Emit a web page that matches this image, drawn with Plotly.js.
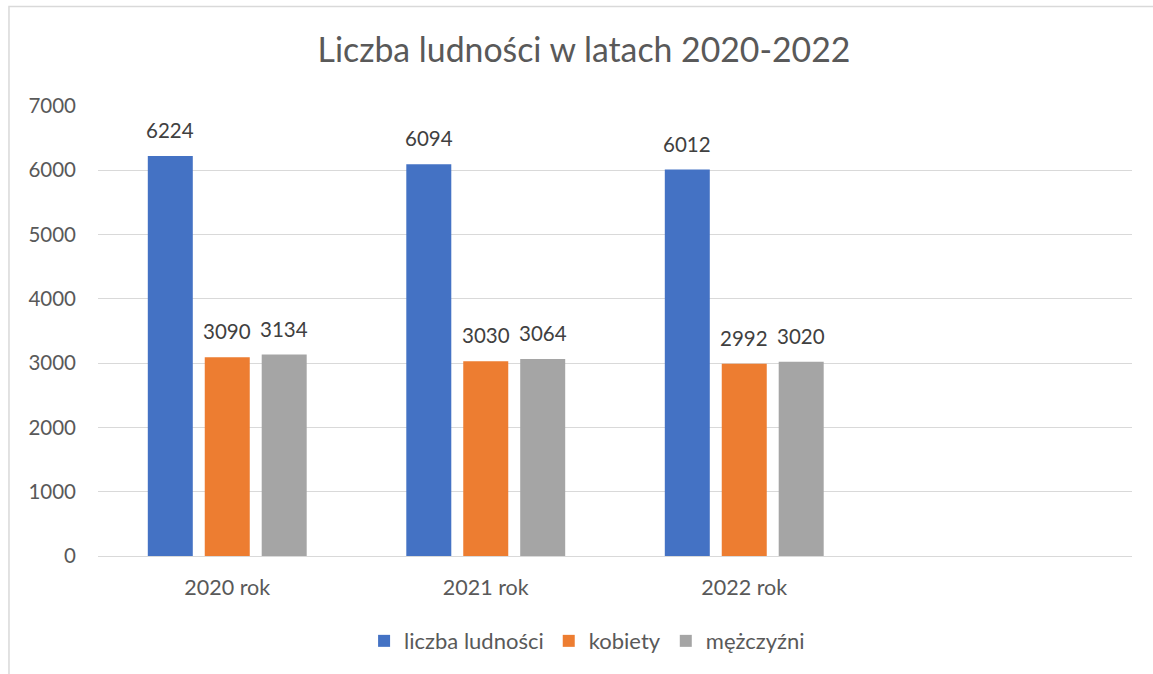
<!DOCTYPE html>
<html>
<head>
<meta charset="utf-8">
<script src="https://cdn.plot.ly/plotly-3.0.1.min.js"></script>
<style>
html,body{margin:0;padding:0;background:#fff;}
#chart{width:1153px;height:674px;}
</style>
</head>
<body>
<div id="chart"></div>
<script>
const categories = ["2020 rok", "2021 rok", "2022 rok"];
const seriesNames = ["liczba ludności", "kobiety", "mężczyźni"];
const liczbaLudnosci = [6224, 6094, 6012];
const kobiety = [3090, 3030, 2992];
const mezczyzni = [3134, 3064, 3020];
const yTicks = [0, 1000, 2000, 3000, 4000, 5000, 6000, 7000];

const colors = ["#4472C4", "#ED7D31", "#A5A5A5"];
const FONT = "Lato, 'Open Sans', sans-serif";
const values = [liczbaLudnosci, kobiety, mezczyzni];

const traces = values.map((v, i) => ({
  type: "bar",
  name: seriesNames[i],
  x: categories,
  y: v,
  marker: {color: colors[i]},
  hoverinfo: "none",
  offsetgroup: String(i)
}));

// data labels placed via the axes' own coordinates (category + per-trace offset)
const nTr = values.length;
const bargap = 0.339;
const groupW = 1 - bargap;
const slot = groupW / nTr;
const annotations = [];
values.forEach((v, i) => {
  v.forEach((val, j) => {
    annotations.push({
      xref: "x", yref: "y",
      x: j - groupW / 2 + slot * (i + 0.5),
      y: val,
      text: String(val),
      showarrow: false,
      yanchor: "middle",
      yshift: 26,
      font: {family: FONT, size: 20.5, color: "#404040"}
    });
  });
});

const layout = {
  width: 1153,
  height: 674,
  margin: {l: 98, r: 21, t: 106, b: 118},
  paper_bgcolor: "#fff",
  plot_bgcolor: "#fff",
  font: {family: FONT, color: "#595959"},
  title: {
    text: "Liczba ludności w latach 2020-2022",
    font: {family: FONT, size: 33.8, color: "#595959"},
    xref: "container", x: 0.5065, xanchor: "center",
    yref: "container", y: 0.926, yanchor: "middle"
  },
  barmode: "group",
  bargap: bargap,
  bargroupgap: 0.21,
  xaxis: {
    type: "category",
    categoryarray: categories,
    range: [-0.5, 3.5],
    showgrid: false,
    showline: false,
    zeroline: false,
    ticks: "",
    ticklabelstandoff: 16,
    tickfont: {family: FONT, size: 21.5, color: "#595959"},
    fixedrange: true
  },
  yaxis: {
    range: [0, 7000],
    tickvals: yTicks,
    ticktext: yTicks.map(String),
    showgrid: true,
    gridcolor: "#d9d9d9",
    gridwidth: 1,
    zeroline: true,
    zerolinecolor: "#d9d9d9",
    zerolinewidth: 1,
    showline: false,
    ticks: "",
    ticklabelstandoff: 21,
    tickfont: {family: FONT, size: 20.5, color: "#595959"},
    fixedrange: true
  },
  annotations: annotations,
  showlegend: true,
  legend: {
    orientation: "h",
    x: 0.473, xanchor: "center",
    y: -0.189, yanchor: "middle",
    font: {family: FONT, size: 22, color: "#595959"},
    itemwidth: 30,
    traceorder: "normal"
  },
  shapes: [{
    type: "path",
    xref: "paper", yref: "paper",
    path: "M -0.0861 -0.5 L -0.0861 1.2211 L 1.2 1.2211",
    line: {color: "#d9d9d9", width: 1.5}
  }]
};

Plotly.newPlot("chart", traces, layout, {displayModeBar: false, staticPlot: true});
</script>
</body>
</html>
